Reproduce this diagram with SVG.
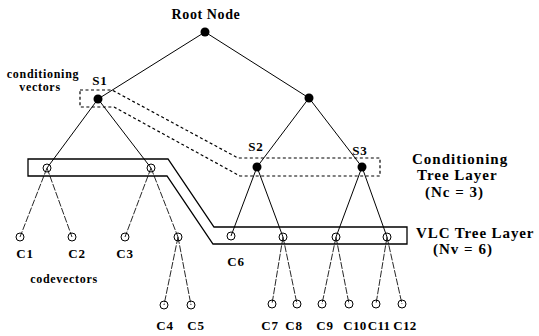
<svg xmlns="http://www.w3.org/2000/svg" width="539" height="336" viewBox="0 0 539 336">
<style>
text{font-family:"Liberation Serif","Times New Roman",serif;font-weight:bold;fill:#000}
.lbl{font-size:13px;letter-spacing:0.8px;text-anchor:middle}
.big{font-size:15px;letter-spacing:1px}
.sm{font-size:12px;letter-spacing:0.7px;text-anchor:middle}
.edge{stroke:#000;stroke-width:1;fill:none}
.leaf{stroke:#000;stroke-width:0.85;fill:none;stroke-dasharray:7 1.5}
.dot{fill:#000}
.open{fill:none;stroke:#000;stroke-width:1}
.dash{fill:none;stroke:#000;stroke-width:1.2;stroke-dasharray:3 2.5}
.solid{fill:none;stroke:#000;stroke-width:1.3}
</style>
<g id="connectors">
<line class="edge" x1="205" y1="32" x2="98" y2="99"/>
<line class="edge" x1="205" y1="32" x2="309" y2="98"/>
<line class="edge" x1="309" y1="98" x2="257" y2="167"/>
<line class="edge" x1="309" y1="98" x2="362" y2="167"/>
<line class="edge" x1="98" y1="99" x2="47" y2="168"/>
<line class="edge" x1="98" y1="99" x2="151" y2="168"/>
<line class="edge" x1="257" y1="167" x2="231" y2="236"/>
<line class="edge" x1="257" y1="167" x2="283" y2="237"/>
<line class="edge" x1="362" y1="167" x2="336" y2="237"/>
<line class="edge" x1="362" y1="167" x2="387" y2="237"/>
<line class="leaf" x1="47" y1="168" x2="20" y2="237"/>
<line class="leaf" x1="47" y1="168" x2="72" y2="237"/>
<line class="leaf" x1="151" y1="168" x2="125" y2="237"/>
<line class="leaf" x1="151" y1="168" x2="178" y2="237"/>
<line class="leaf" x1="178" y1="237" x2="164" y2="305"/>
<line class="leaf" x1="178" y1="237" x2="191" y2="305"/>
<line class="leaf" x1="283" y1="237" x2="272" y2="304"/>
<line class="leaf" x1="283" y1="237" x2="297" y2="304"/>
<line class="leaf" x1="336" y1="237" x2="322" y2="304"/>
<line class="leaf" x1="336" y1="237" x2="349" y2="304"/>
<line class="leaf" x1="387" y1="237" x2="376" y2="304"/>
<line class="leaf" x1="387" y1="237" x2="402" y2="304"/>
</g>
<g id="conditioning-layer">
<path class="dash" d="M80 90 L112 90 L238 158 L380 158 L380 176 L240 176 L114 107 L80 107 Z"/>
</g>
<g id="vlc-layer">
<path class="solid" d="M28 159 L168 159 L214 227 L407 227 L407 244 L213 244 L167 176 L28 176 Z"/>
</g>
<g id="root"><circle class="dot" cx="205" cy="32" r="4.5"/><text class="lbl" x="206" y="19" style="font-size:14px;letter-spacing:0.6px">Root Node</text></g>
<g id="s1"><circle class="dot" cx="98" cy="99" r="4.5"/><text class="lbl" x="100" y="85">S1</text></g>
<g id="n-right"><circle class="dot" cx="309" cy="98" r="4.5"/></g>
<g id="s2"><circle class="dot" cx="257" cy="167" r="4.5"/><text class="lbl" x="256" y="151">S2</text></g>
<g id="s3"><circle class="dot" cx="362" cy="167" r="4.5"/><text class="lbl" x="360" y="155">S3</text></g>
<g id="v1"><circle class="open" cx="47" cy="168" r="4"/></g>
<g id="v2"><circle class="open" cx="151" cy="168" r="4"/></g>
<g id="v3"><circle class="open" cx="178" cy="237" r="4"/></g>
<g id="v4"><circle class="open" cx="283" cy="237" r="4"/></g>
<g id="v5"><circle class="open" cx="336" cy="237" r="4"/></g>
<g id="v6"><circle class="open" cx="387" cy="237" r="4"/></g>
<g id="c1"><circle class="open" cx="20" cy="237" r="4"/><text class="lbl" x="25" y="258">C1</text></g>
<g id="c2"><circle class="open" cx="72" cy="237" r="4"/><text class="lbl" x="77" y="258">C2</text></g>
<g id="c3"><circle class="open" cx="125" cy="237" r="4"/><text class="lbl" x="125" y="258">C3</text></g>
<g id="c4"><circle class="open" cx="164" cy="305" r="4"/><text class="lbl" x="165" y="330">C4</text></g>
<g id="c5"><circle class="open" cx="191" cy="305" r="4"/><text class="lbl" x="196" y="330">C5</text></g>
<g id="c6"><circle class="open" cx="231" cy="236" r="4"/><text class="lbl" x="236" y="266">C6</text></g>
<g id="c7"><circle class="open" cx="272" cy="304" r="4"/><text class="lbl" x="270" y="330">C7</text></g>
<g id="c8"><circle class="open" cx="297" cy="304" r="4"/><text class="lbl" x="294" y="330">C8</text></g>
<g id="c9"><circle class="open" cx="322" cy="304" r="4"/><text class="lbl" x="325" y="330">C9</text></g>
<g id="c10"><circle class="open" cx="349" cy="304" r="4"/><text class="lbl" x="355" y="330" style="letter-spacing:0.3px">C10</text></g>
<g id="c11"><circle class="open" cx="376" cy="304" r="4"/><text class="lbl" x="379" y="330" style="letter-spacing:0.3px">C11</text></g>
<g id="c12"><circle class="open" cx="402" cy="304" r="4"/><text class="lbl" x="405" y="330" style="letter-spacing:0.3px">C12</text></g>
<g id="labels">
<text class="sm" x="43" y="78">conditioning</text>
<text class="sm" x="40" y="91">vectors</text>
<text class="sm" x="64" y="283">codevectors</text>
<text class="big" x="412" y="164">Conditioning</text>
<text class="big" x="417" y="180">Tree Layer</text>
<text class="big" x="425" y="197">(Nc = 3)</text>
<text class="big" x="416" y="238" style="letter-spacing:0.9px">VLC Tree Layer</text>
<text class="big" x="433" y="254">(Nv = 6)</text>
</g>
</svg>
